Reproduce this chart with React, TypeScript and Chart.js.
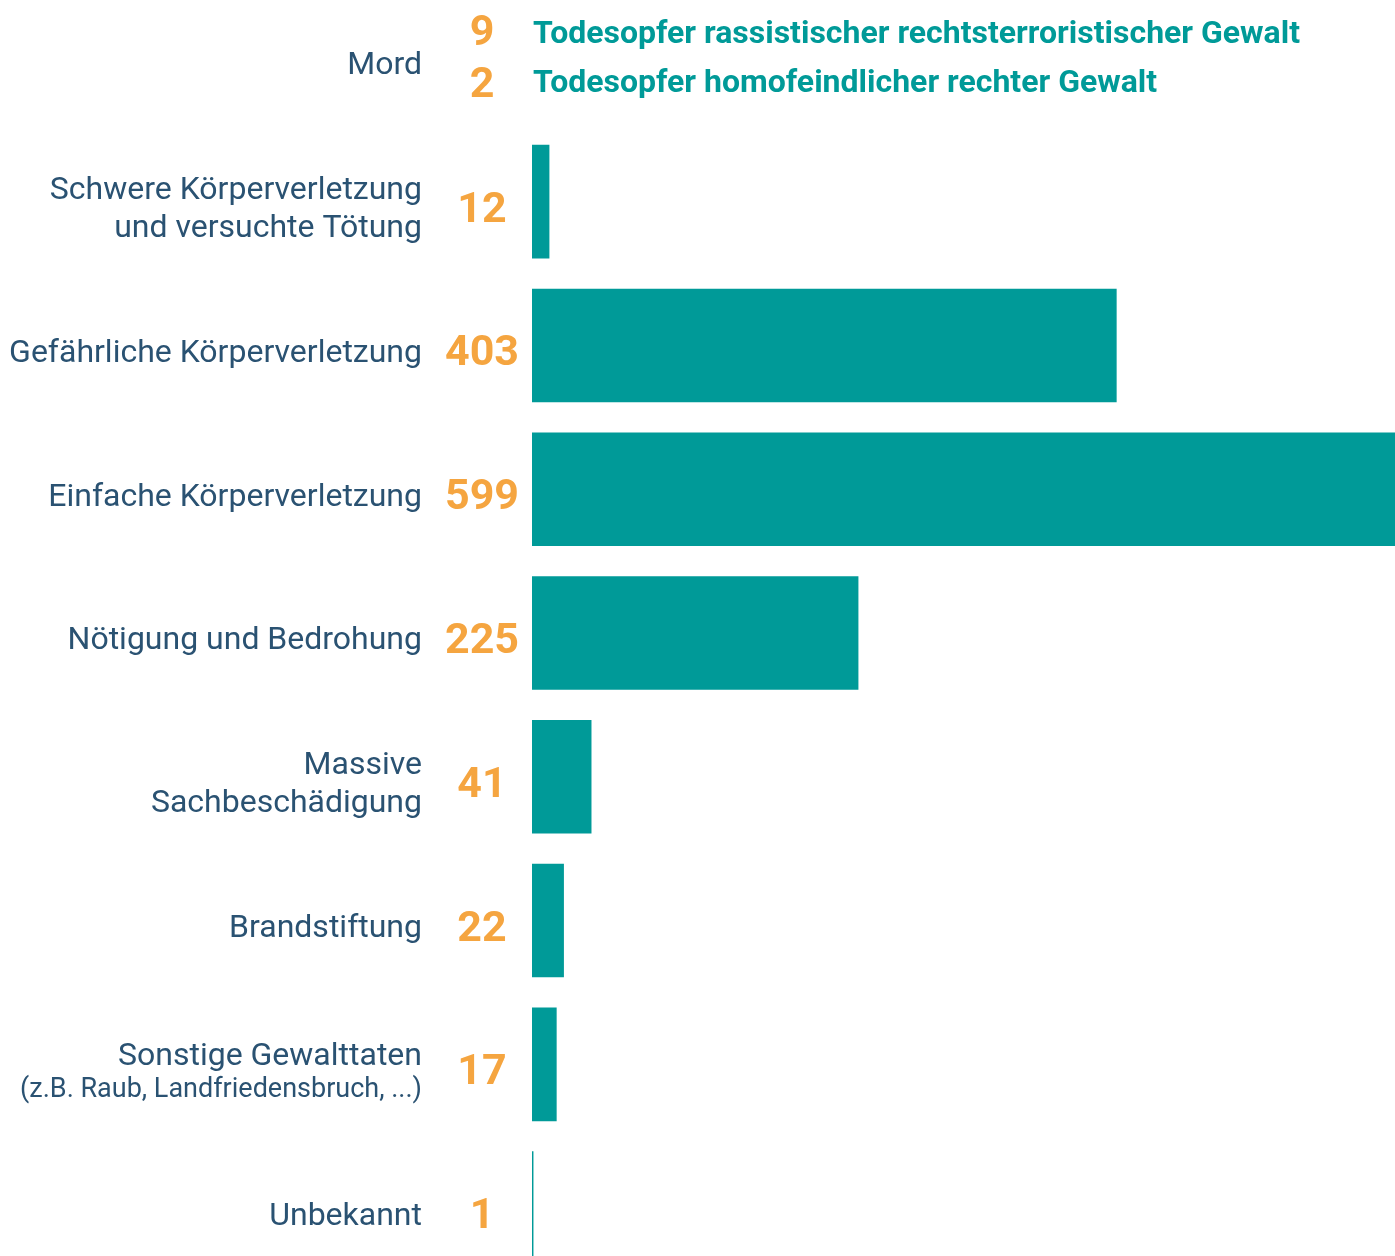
import React, { useEffect, useRef } from 'react';
import { Chart, registerables } from 'chart.js';

Chart.register(...registerables);

const categories = [
  'Mord',
  'Schwere Körperverletzung und versuchte Tötung',
  'Gefährliche Körperverletzung',
  'Einfache Körperverletzung',
  'Nötigung und Bedrohung',
  'Massive Sachbeschädigung',
  'Brandstiftung',
  'Sonstige Gewalttaten',
  'Unbekannt',
];
const labelLines: string[][] = [
  ['Mord'],
  ['Schwere Körperverletzung', 'und versuchte Tötung'],
  ['Gefährliche Körperverletzung'],
  ['Einfache Körperverletzung'],
  ['Nötigung und Bedrohung'],
  ['Massive', 'Sachbeschädigung'],
  ['Brandstiftung'],
  ['Sonstige Gewalttaten'],
  ['Unbekannt'],
];
const labelNotes = ['', '', '', '', '', '', '', '(z.B. Raub, Landfriedensbruch, ...)', ''];
const values: (number | null)[] = [null, 12, 403, 599, 225, 41, 22, 17, 1];
const mordCounts = [9, 2];
const mordTexts = [
  'Todesopfer rassistischer rechtsterroristischer Gewalt',
  'Todesopfer homofeindlicher rechter Gewalt',
];

const TEAL = '#009a98';
const ORANGE = '#f5a540';
const LABEL = '#2a5272';
const FONT = 'Roboto, "Noto Sans", sans-serif';

const textPlugin = {
  id: 'textPlugin',
  afterDraw(chart: any) {
    const ctx = chart.ctx as CanvasRenderingContext2D;
    const y = chart.scales.y;
    ctx.save();
    categories.forEach((_, i) => {
      const cy = y.getPixelForValue(i);
      // category labels
      ctx.fillStyle = LABEL;
      ctx.textAlign = 'right';
      ctx.textBaseline = 'alphabetic';
      const lines = labelLines[i];
      const note = labelNotes[i];
      if (note) {
        ctx.font = `400 32px ${FONT}`;
        ctx.fillText(lines[0], 422, cy + 1);
        ctx.font = `400 27px ${FONT}`;
        ctx.fillText(note, 422, cy + 32.7);
      } else {
        ctx.font = `400 32px ${FONT}`;
        const n = lines.length;
        lines.forEach((l, k) => {
          const by = cy + 16.4 + (k - (n - 1) / 2) * 38;
          ctx.fillText(l, 422, by);
        });
      }
      // values
      ctx.textAlign = 'center';
      ctx.font = `700 43px ${FONT}`;
      ctx.fillStyle = ORANGE;
      if (i === 0) {
        ctx.fillText(String(mordCounts[0]), 482, cy - 12.7);
        ctx.fillText(String(mordCounts[1]), 482, cy + 39);
        ctx.textAlign = 'left';
        ctx.font = `700 32px ${FONT}`;
        ctx.fillStyle = TEAL;
        ctx.fillText(mordTexts[0], 533, cy - 15);
        ctx.fillText(mordTexts[1], 533, cy + 34);
      } else {
        ctx.fillText(String(values[i]), 482, cy + 20);
      }
    });
    ctx.restore();
  },
};

export default function App() {
  const ref = useRef<HTMLCanvasElement | null>(null);
  useEffect(() => {
    document.body.style.margin = '0';
    const canvas = ref.current!;
    const chart = new Chart(canvas, {
      type: 'bar',
      data: {
        labels: categories,
        datasets: [
          {
            data: values as any,
            backgroundColor: TEAL,
            borderWidth: 0,
            categoryPercentage: 1,
            barPercentage: 0.79,
          },
        ],
      },
      options: {
        indexAxis: 'y',
        responsive: false,
        animation: false,
        devicePixelRatio: 1,
        layout: { padding: { left: 532, right: 0, top: 0, bottom: 0 } },
        plugins: { legend: { display: false }, tooltip: { enabled: false } },
        scales: {
          x: { display: false, min: 0, max: 599 },
          y: { display: false, offset: true },
        },
      },
      plugins: [textPlugin],
    });
    return () => chart.destroy();
  }, []);
  return (
    <div style={{ position: 'relative', width: 1395, height: 1256, overflow: 'hidden', background: '#fff' }}>
      <canvas
        ref={ref}
        width={1401}
        height={1294}
        style={{ position: 'absolute', left: 0, top: -14, width: 1401, height: 1294 }}
      />
    </div>
  );
}
